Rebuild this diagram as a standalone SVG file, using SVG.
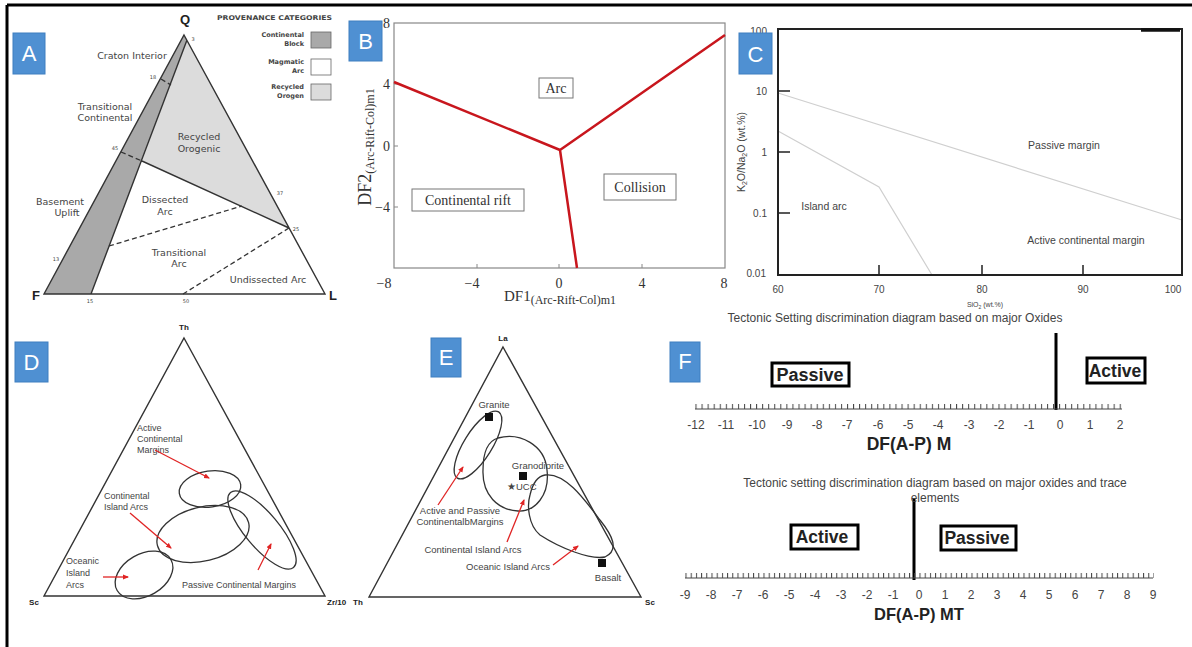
<svg xmlns="http://www.w3.org/2000/svg" width="1192" height="647" viewBox="0 0 1192 647">
<style>
.lbl{fill:#4f90d2;stroke:#3f7fc0;stroke-width:1}
.lt{font-family:"Liberation Sans",Arial,sans-serif;font-size:22px;fill:#fff;text-anchor:middle}
.a{font-family:"DejaVu Sans",Arial,sans-serif;font-size:9.5px;fill:#444;text-anchor:middle}
.an{font-family:"DejaVu Sans",Arial,sans-serif;font-size:5px;fill:#444;text-anchor:middle}
.leg{font-family:"DejaVu Sans",Arial,sans-serif;font-size:6.5px;font-weight:bold;fill:#444;text-anchor:end}
.ser{font-family:"Liberation Serif","Times New Roman",serif;fill:#333}
.sans{font-family:"Liberation Sans",Arial,sans-serif;fill:#444}
.bold{font-family:"Liberation Sans",Arial,sans-serif;font-weight:bold;fill:#222}
.mid{text-anchor:middle}
.end{text-anchor:end}
.tri{fill:none;stroke:#333;stroke-width:1.4}
.shape{fill:none;stroke:#333;stroke-width:1.3}
.red{stroke:#e02424;stroke-width:1.3;fill:none;marker-end:url(#ah)}
.dash{stroke:#333;stroke-width:1.3;stroke-dasharray:5 3;fill:none}
.box{fill:#fff;stroke:#000;stroke-width:3}
</style>
<defs>
<marker id="ah" markerWidth="6" markerHeight="6" refX="5" refY="3" orient="auto" markerUnits="userSpaceOnUse">
<path d="M0,0.5 L6,3 L0,5.5 Z" fill="#e02424"/>
</marker>
<pattern id="tk1" patternUnits="userSpaceOnUse" x="695.5" y="404" width="6.06" height="5">
<rect x="0" y="0" width="1" height="5" fill="#444"/>
</pattern>
<pattern id="tk2" patternUnits="userSpaceOnUse" x="685.5" y="573" width="5.2" height="5">
<rect x="0" y="0" width="1" height="5" fill="#444"/>
</pattern>
</defs>
<rect width="1192" height="647" fill="#fff"/>
<!-- outer frame -->
<path d="M7,5 H1192 M7,5 V647" stroke="#000" stroke-width="3" fill="none"/>

<!-- Panel A -->
<g id="panelA">
<polygon points="184,35 187,40 91,294 44,294" fill="#a9a9a9"/>
<polygon points="187,40 289,228 142,161" fill="#dcdcdc"/>
<path class="tri" d="M184,35 L325,294 L44,294 Z M187,40 L91,294 M142,161 L289,228"/>
<path class="dash" d="M161,79 L171,85 M121,152 L142,161 M109,246 L242,206 M289,228 L183,294"/>
<text class="bold" x="185" y="24" font-size="13" text-anchor="middle">Q</text>
<text class="bold" x="36" y="300" font-size="13" text-anchor="middle">F</text>
<text class="bold" x="333" y="300" font-size="13" text-anchor="middle">L</text>
<text class="an" x="193" y="41">3</text>
<text class="an" x="153" y="79">18</text>
<text class="an" x="115" y="150">45</text>
<text class="an" x="280" y="195">37</text>
<text class="an" x="296" y="231">25</text>
<text class="an" x="56" y="261">13</text>
<text class="an" x="90" y="303">15</text>
<text class="an" x="186" y="303">50</text>
<text class="a" x="132" y="59">Craton Interior</text>
<text class="a" x="105" y="110">Transitional</text>
<text class="a" x="105" y="121">Continental</text>
<text class="a" x="199" y="140">Recycled</text>
<text class="a" x="199" y="152">Orogenic</text>
<text class="a" x="165" y="203">Dissected</text>
<text class="a" x="165" y="215">Arc</text>
<text class="a" x="60" y="205">Basement</text>
<text class="a" x="67" y="216">Uplift</text>
<text class="a" x="179" y="256">Transitional</text>
<text class="a" x="179" y="267">Arc</text>
<text class="a" x="268" y="283">Undissected Arc</text>
<text class="leg" x="217" y="20" font-size="8" style="text-anchor:start" textLength="115" lengthAdjust="spacingAndGlyphs">PROVENANCE CATEGORIES</text>
<rect x="311" y="32" width="20" height="16" fill="#a9a9a9" stroke="#666" stroke-width="0.8"/>
<rect x="311" y="59" width="20" height="16" fill="#fff" stroke="#666" stroke-width="0.8"/>
<rect x="311" y="84" width="20" height="16" fill="#dcdcdc" stroke="#666" stroke-width="0.8"/>
<text class="leg" x="304" y="37">Continental</text>
<text class="leg" x="304" y="46">Block</text>
<text class="leg" x="304" y="64">Magmatic</text>
<text class="leg" x="304" y="73">Arc</text>
<text class="leg" x="304" y="89">Recycled</text>
<text class="leg" x="304" y="98">Orogen</text>
<rect class="lbl" x="13" y="33" width="32" height="41"/>
<text class="lt" x="29" y="61">A</text>
</g>

<!-- Panel B -->
<g id="panelB">
<rect x="394" y="23" width="331" height="245" fill="none" stroke="#888" stroke-width="1.2"/>
<path d="M477,268 v-4 M559,268 v-4 M642,268 v-4 M394,84 h4 M394,146 h4 M394,207 h4" stroke="#888" stroke-width="1"/>
<text class="ser end" x="390" y="28" font-size="14">8</text>
<text class="ser end" x="390" y="89" font-size="14">4</text>
<text class="ser end" x="390" y="151" font-size="14">0</text>
<text class="ser end" x="390" y="212" font-size="14">−4</text>
<text class="ser mid" x="384" y="288" font-size="14">−8</text>
<text class="ser mid" x="472" y="288" font-size="14">−4</text>
<text class="ser mid" x="559" y="288" font-size="14">0</text>
<text class="ser mid" x="642" y="288" font-size="14">4</text>
<text class="ser mid" x="724" y="288" font-size="14">8</text>
<text class="ser mid" x="560" y="301" font-size="15">DF1<tspan font-size="12" dy="3">(Arc-Rift-Col)m1</tspan></text>
<text class="ser mid" transform="translate(371,147) rotate(-90)" font-size="18">DF2<tspan font-size="12" dy="3">(Arc-Rift-Col)m1</tspan></text>
<path d="M394,82 L560,150 L725,35 M560,150 L577,268" stroke="#c8161d" stroke-width="2.5" fill="none" stroke-linejoin="round"/>
<rect x="539" y="78" width="34" height="20" fill="#fff" stroke="#777" stroke-width="1"/>
<text class="ser mid" x="556" y="93" font-size="14">Arc</text>
<rect x="412" y="189" width="112" height="22" fill="#fff" stroke="#777" stroke-width="1"/>
<text class="ser mid" x="468" y="205" font-size="14">Continental rift</text>
<rect x="604" y="174" width="72" height="26" fill="#fff" stroke="#777" stroke-width="1"/>
<text class="ser mid" x="640" y="192" font-size="14">Collision</text>
<rect class="lbl" x="349" y="21" width="33" height="40"/>
<text class="lt" x="365.5" y="49">B</text>
</g>

<!-- Panel C -->
<g id="panelC">
<text class="sans end" x="767" y="35" font-size="10">100</text>
<text class="sans end" x="767" y="95" font-size="10">10</text>
<text class="sans end" x="767" y="156" font-size="10">1</text>
<text class="sans end" x="767" y="217" font-size="10">0.1</text>
<text class="sans end" x="766" y="277" font-size="10">0.01</text>
<text class="sans mid" x="778" y="293" font-size="10">60</text>
<text class="sans mid" x="879" y="293" font-size="10">70</text>
<text class="sans mid" x="982" y="293" font-size="10">80</text>
<text class="sans mid" x="1083" y="293" font-size="10">90</text>
<text class="sans mid" x="1173" y="293" font-size="10">100</text>
<text class="sans mid" x="985" y="307" font-size="7" fill="#aaa">SiO<tspan font-size="5" dy="1.5">2</tspan><tspan dy="-1.5"> (wt.%)</tspan></text>
<text class="sans mid" transform="translate(745,152) rotate(-90)" font-size="10.5">K<tspan font-size="7" dy="2">2</tspan><tspan dy="-2">O/Na</tspan><tspan font-size="7" dy="2">2</tspan><tspan dy="-2">O (wt.%)</tspan></text>
<path d="M778,93 L1182,220 M778,131 L879,187 L932,275" stroke="#cfcfcf" stroke-width="1.2" fill="none"/>
<rect x="778" y="29" width="404" height="246" fill="none" stroke="#222" stroke-width="2"/>
<path d="M778,91 h12 M778,152 h12 M778,213 h12 M879,275 v-10 M982,275 v-10 M1083,275 v-10" stroke="#222" stroke-width="1.5"/>
<path d="M1141,30 H1180" stroke="#111" stroke-width="3.5"/>
<text class="sans mid" x="1064" y="149" font-size="10.5">Passive margin</text>
<text class="sans mid" x="824" y="210" font-size="10.5">Island arc</text>
<text class="sans mid" x="1086" y="244" font-size="10.5">Active continental margin</text>
<rect class="lbl" x="739" y="33" width="33" height="41"/>
<text class="lt" x="755.5" y="62">C</text>
</g>

<!-- Panel D -->
<g id="panelD">
<path class="tri" d="M184,338 L325,596 L44,596 Z"/>
<text class="bold mid" x="184" y="330" font-size="8">Th</text>
<text class="bold mid" x="34" y="605" font-size="8">Sc</text>
<text class="bold" x="327" y="605" font-size="8">Zr/10</text>
<ellipse class="shape" cx="210" cy="489" rx="31" ry="18" transform="rotate(-8 210 489)"/>
<ellipse class="shape" cx="203" cy="534" rx="47" ry="27" transform="rotate(-14 203 534)"/>
<ellipse class="shape" cx="262" cy="530" rx="49" ry="17" transform="rotate(50 262 530)"/>
<ellipse class="shape" cx="144" cy="575" rx="31" ry="21" transform="rotate(-30 144 575)"/>
<g class="sans" font-size="9">
<text x="137" y="431">Active</text>
<text x="137" y="442">Continental</text>
<text x="137" y="453">Margins</text>
<text x="104" y="499">Continental</text>
<text x="104" y="510">Island Arcs</text>
<text x="66" y="564">Oceanic</text>
<text x="66" y="576">Island</text>
<text x="66" y="588">Arcs</text>
<text x="182" y="588">Passive Continental Margins</text>
</g>
<rect class="lbl" x="15" y="342" width="33" height="40"/>
<text class="lt" x="31.5" y="370">D</text>
</g>

<!-- Panel E -->
<g id="panelE">
<path class="tri" d="M503,347 L641,597 L369,597 Z"/>
<text class="bold mid" x="503" y="341" font-size="8">La</text>
<text class="bold" x="353" y="605" font-size="8">Th</text>
<text class="bold mid" x="650" y="605" font-size="8">Sc</text>
<ellipse class="shape" cx="478" cy="445" rx="39" ry="14" transform="rotate(-58 478 445)"/>
<path class="shape" d="M498,438 C520,432 545,445 547,470 C550,495 535,512 518,511 C498,510 482,495 483,470 C483,452 488,441 498,438 Z"/>
<path class="shape" d="M545,475 C565,472 585,500 600,520 C612,535 620,550 605,557 C590,560 560,548 540,535 C528,525 527,505 530,495 C533,482 538,476 545,475 Z"/>
<rect x="485" y="413" width="8" height="8" fill="#111"/>
<rect x="519" y="472" width="8" height="8" fill="#111"/>
<rect x="598" y="559" width="8" height="8" fill="#111"/>
<g class="sans" font-size="9.5">
<text class="mid" x="494" y="408">Granite</text>
<text class="mid" x="538" y="469">Granodiorite</text>
<text x="507" y="490">★UCC</text>
<text class="mid" x="608" y="581">Basalt</text>
<text class="mid" x="460" y="514">Active and Passive</text>
<text class="mid" x="460" y="525">ContinentalbMargins</text>
<text class="mid" x="473" y="553">Continental Island Arcs</text>
<text class="mid" x="508" y="570">Oceanic Island Arcs</text>
</g>
<rect class="lbl" x="431" y="338" width="30" height="39"/>
<text class="lt" x="446" y="365">E</text>
</g>

<!-- Panel F -->
<g id="panelF">
<text class="sans mid" x="895" y="322" font-size="12" fill="#333">Tectonic Setting discrimination diagram based on major Oxides</text>
<path d="M1056,333 V410 M914,498 V580" stroke="#000" stroke-width="3"/>
<rect class="box" x="772" y="363" width="77" height="23"/>
<text class="bold mid" x="810" y="381" font-size="18" fill="#000">Passive</text>
<rect class="box" x="1087" y="358" width="58" height="25"/>
<text class="bold mid" x="1115" y="377" font-size="17.5" fill="#000">Active</text>
<line x1="695" y1="409" x2="1122" y2="409" stroke="#444" stroke-width="1"/>
<rect x="695" y="404" width="428" height="5" fill="url(#tk1)"/>
<g class="sans mid" font-size="12" fill="#333">
<text x="696" y="429">-12</text><text x="726" y="429">-11</text><text x="757" y="429">-10</text><text x="787" y="429">-9</text><text x="817" y="429">-8</text><text x="847" y="429">-7</text><text x="878" y="429">-6</text><text x="908" y="429">-5</text><text x="938" y="429">-4</text><text x="969" y="429">-3</text><text x="999" y="429">-2</text><text x="1029" y="429">-1</text><text x="1060" y="429">0</text><text x="1090" y="429">1</text><text x="1120" y="429">2</text>
</g>
<text class="bold mid" x="909" y="450" font-size="17.5">DF(A-P) M</text>
<text class="sans mid" x="935" y="487" font-size="12" fill="#333">Tectonic setting  discrimination diagram based on major oxides and trace</text>
<text class="sans mid" x="935" y="502" font-size="12" fill="#333">elements</text>
<rect class="box" x="791" y="525" width="67" height="24"/>
<text class="bold mid" x="822" y="543" font-size="17.5" fill="#000">Active</text>
<rect class="box" x="941" y="526" width="75" height="24"/>
<text class="bold mid" x="977" y="544" font-size="17.5" fill="#000">Passive</text>
<line x1="685" y1="578" x2="1153" y2="578" stroke="#444" stroke-width="1"/>
<rect x="685" y="573" width="469" height="5" fill="url(#tk2)"/>
<g class="sans mid" font-size="12" fill="#333">
<text x="685" y="599">-9</text><text x="711" y="599">-8</text><text x="737" y="599">-7</text><text x="763" y="599">-6</text><text x="789" y="599">-5</text><text x="815" y="599">-4</text><text x="841" y="599">-3</text><text x="867" y="599">-2</text><text x="893" y="599">-1</text><text x="919" y="599">0</text><text x="945" y="599">1</text><text x="971" y="599">2</text><text x="997" y="599">3</text><text x="1023" y="599">4</text><text x="1049" y="599">5</text><text x="1075" y="599">6</text><text x="1101" y="599">7</text><text x="1127" y="599">8</text><text x="1153" y="599">9</text>
</g>
<text class="bold mid" x="919" y="620" font-size="16.5">DF(A-P) MT</text>
<rect class="lbl" x="670" y="342" width="30" height="40"/>
<text class="lt" x="685" y="369">F</text>
</g>

<!-- connectors (red arrows) -->
<g id="connectors">
<path class="red" d="M155,450 L209,478"/>
<path class="red" d="M130,513 L171,548"/>
<path class="red" d="M103,577 L128,577"/>
<path class="red" d="M258,570 L271,544"/>
<path class="red" d="M438,505 L463,467"/>
<path class="red" d="M507,542 L524,500"/>
<path class="red" d="M553,565 L578,546"/>
</g>
</svg>
